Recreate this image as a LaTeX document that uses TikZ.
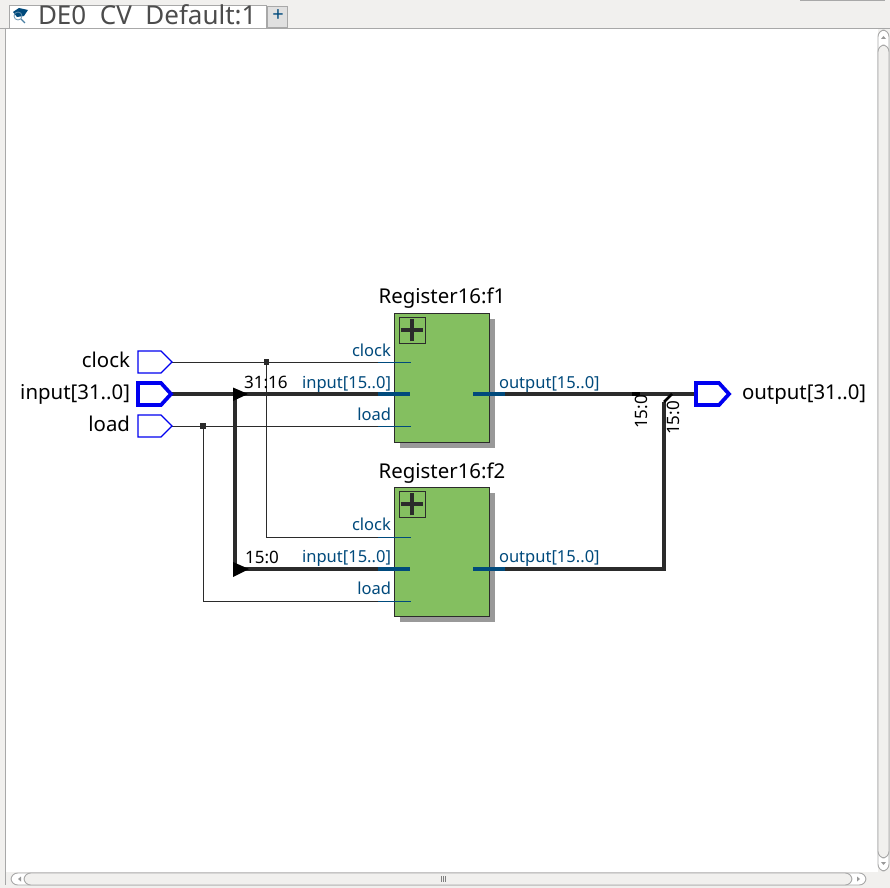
\documentclass[tikz,border=0pt]{standalone}
\usepackage{fontspec}
\setmainfont{Noto Sans}
\definecolor{wire}{HTML}{2B2B2B}
\definecolor{portblue}{HTML}{004A7C}
\definecolor{pinblue}{HTML}{0000F0}
\definecolor{boxgreen}{HTML}{84BF60}
\definecolor{chromeline}{HTML}{A8A8A8}
\definecolor{chromebg}{HTML}{F1F0EE}
\begin{document}
\begin{tikzpicture}[x=0.75pt,y=-0.75pt,
  every node/.style={inner sep=0pt,outer sep=0pt},
  thinwire/.style={draw=wire,line width=0.65pt},
  buswire/.style={draw=wire,line width=2.4pt},
  thinstub/.style={draw=portblue,line width=0.65pt},
  busstub/.style={draw=portblue,line width=2.4pt},
  pinthin/.style={draw=pinblue,fill=white,line width=0.8pt},
  pinbus/.style={draw=pinblue,fill=white,line width=2.8pt},
  pinlabel/.style={font=\fontsize{15.3}{17}\selectfont,text=black},
  portlabel/.style={font=\fontsize{12.4}{14}\selectfont,text=portblue},
  bitlabel/.style={font=\fontsize{12.8}{14}\selectfont,text=black},
  reglabel/.style={font=\fontsize{15.3}{17}\selectfont,text=black},
  regbox/.style={draw=wire,fill=boxgreen,line width=0.7pt,minimum width=71.5pt,minimum height=97pt},
  regshadow/.style={fill=black!40,minimum width=71.5pt,minimum height=97pt},
  plusbox/.style={draw=wire,line width=0.65pt,minimum width=19.5pt,minimum height=19.5pt},
  dot/.style={fill=wire,minimum size=3.8pt},
  chrome/.style={draw=chromeline,line width=0.7pt}
]
\useasboundingbox (0,0) rectangle (890,888);
\fill[white] (0,0) rectangle (890,888);
% window chrome
\fill[chromebg] (0,0) rectangle (890,28);
\fill[chromebg] (0,28) rectangle (5,888);
\fill[chromebg] (878,28) rectangle (890,888);
\fill[chromebg] (0,872) rectangle (890,888);
\draw[chrome] (0,28) -- (890,28);
\draw[chrome] (5,28) -- (5,885);
\draw[chrome] (800,0.5) -- (885,0.5);
\draw[chrome,fill=white] (9,5) rectangle (266,28);
\draw[chrome,fill=black!12] (267,6) rectangle (287,27);
\node[font=\fontsize{15}{16}\selectfont\bfseries,text=portblue] (tabplus) at (278,15.5) {+};
\node[anchor=base west,font=\fontsize{19.5}{21}\selectfont,text=black!70] (tabtext) at (38,25) {DE0\hspace{0.52em}CV\hspace{0.52em}Default:1};
\fill[portblue] (13,12) -- (19,8) -- (28,10) -- (24,16) -- (17,17) -- cycle;
\draw[portblue!60,line width=0.6pt] (18,16) circle[radius=4];
\draw[portblue!70,line width=0.9pt] (21,19) -- (25,23);
% scrollbars
\draw[chrome,fill=white,rounded corners=5pt] (11,873) rectangle (866,885);
\draw[chrome,fill=chromebg,rounded corners=5pt] (24,873) rectangle (852,885);
\draw[draw=black!50,line width=0.5pt] (441,876) -- (441,882) (443,876) -- (443,882) (445,876) -- (445,882);
\fill[black!40] (18,879) -- (21,876.5) -- (21,881.5) -- cycle;
\fill[black!40] (860,879) -- (857,876.5) -- (857,881.5) -- cycle;
\draw[chrome,fill=white,rounded corners=5pt] (878,30) rectangle (889,871);
\draw[chrome,fill=chromebg,rounded corners=5pt] (878,45) rectangle (889,858);
\fill[black!40] (883.5,36) -- (881,39) -- (886,39) -- cycle;
\fill[black!40] (883.5,865) -- (881,862) -- (886,862) -- cycle;
% shadows and boxes
\node[regshadow] (sh1) at (447.5,383.5) {};
\node[regshadow] (sh2) at (447.5,557.5) {};
\node[regbox] (f1) at (441.8,377.8) {};
\node[regbox] (f2) at (441.8,551.8) {};
\node[plusbox] (p1) at (412,330) {};
\node[plusbox] (p2) at (412,504) {};
\foreach \p in {p1,p2}{
  \draw[wire,line width=2.4pt] ([xshift=-8.5pt]\p.center) -- ([xshift=8.5pt]\p.center);
  \draw[wire,line width=2.4pt] ([yshift=-8.5pt]\p.center) -- ([yshift=8.5pt]\p.center);
}
\node[reglabel,anchor=base] (t1) at (442,304) {Register16:f1};
\node[reglabel,anchor=base] (t2) at (442,478) {Register16:f2};
% port anchors
\coordinate (f1clk) at (378,362); \coordinate (f1clke) at (411,362);
\coordinate (f1in) at (378,394);  \coordinate (f1ine) at (410,394);
\coordinate (f1ld) at (378,426);  \coordinate (f1lde) at (411,426);
\coordinate (f1outs) at (473,394); \coordinate (f1out) at (505,394);
\coordinate (f2clk) at (378,537); \coordinate (f2clke) at (411,537);
\coordinate (f2in) at (378,569);  \coordinate (f2ine) at (410,569);
\coordinate (f2ld) at (378,601);  \coordinate (f2lde) at (411,601);
\coordinate (f2outs) at (473,569); \coordinate (f2out) at (505,569);
% pin labels
\node[pinlabel,anchor=base east] (lclock) at (130,367.5) {clock};
\node[pinlabel,anchor=base east] (linput) at (130,399.5) {input[31..0]};
\node[pinlabel,anchor=base east] (lload) at (130,431.5) {load};
\node[pinlabel,anchor=base west] (loutput) at (742,399.5) {output[31..0]};
% junction and bus points
\coordinate (pclock) at (172,362);
\coordinate (pinput) at (172,394);
\coordinate (pload) at (172,426);
\coordinate (poutput) at (695,394);
\node[dot] (jclk) at (266.5,362) {};
\node[dot] (jld) at (203,426) {};
\coordinate (busT) at (235,394);
\coordinate (busB) at (235,569);
\coordinate (oJoin) at (664,569);
\coordinate (oBend) at (664,402);
\coordinate (oTap) at (672,394);
% wires
\draw[thinwire] (pclock) -- (jclk) -- (f1clk);
\draw[thinwire] (pload) -- (jld) -- (f1ld);
\draw[thinwire] (jclk) |- (f2clk);
\draw[thinwire] (jld) |- (f2ld);
\draw[buswire] (pinput) -- (f1in);
\draw[buswire] (busT) -- (busB) -- (f2in);
\draw[buswire] (f1out) -- (poutput);
\draw[buswire] (f2out) -- (oJoin) -- (oBend);
\draw[black,line width=2pt] (oBend) -- (oTap);
\fill[black] (632,392) rectangle (640,396);
% stubs
\foreach \a/\b in {f1clk/f1clke,f1ld/f1lde,f2clk/f2clke,f2ld/f2lde}{\draw[thinstub] (\a) -- (\b);}
\foreach \a/\b in {f1in/f1ine,f1outs/f1out,f2in/f2ine,f2outs/f2out}{\draw[busstub] (\a) -- (\b);}
% rippers
\fill[black] (233,387.5) -- (248,394) -- (233,401) -- cycle;
\fill[black] (233,562) -- (249,569) -- (233,577) -- cycle;
% pin shapes
\draw[pinthin] (138,351) -- (161,351) -- (172,362) -- (161,373) -- (138,373) -- cycle;
\draw[pinbus] (138,383) -- (161,383) -- (171,394) -- (161,405) -- (138,405) -- cycle;
\draw[pinthin] (138,415) -- (161,415) -- (172,426) -- (161,437) -- (138,437) -- cycle;
\draw[pinbus] (696,383) -- (719,383) -- (729,394) -- (719,405) -- (696,405) -- cycle;
% port labels
\foreach \y/\t in {356/clock,388/input[15..0],420/load,530/clock,562/input[15..0],594/load}{
  \node[portlabel,anchor=base east] at (391,\y) {\t};
}
\node[portlabel,anchor=base west] (o1) at (499,388) {output[15..0]};
\node[portlabel,anchor=base west] (o2) at (499,562) {output[15..0]};
\node[bitlabel,anchor=base west] (b1) at (244,388) {31:16};
\node[bitlabel,anchor=base west] (b2) at (245,563) {15:0};
\node[bitlabel,rotate=90,anchor=base east] (b3) at (647,395) {15:0};
\node[bitlabel,rotate=90,anchor=base east] (b5) at (679,401) {15:0};
\end{tikzpicture}
\end{document}
